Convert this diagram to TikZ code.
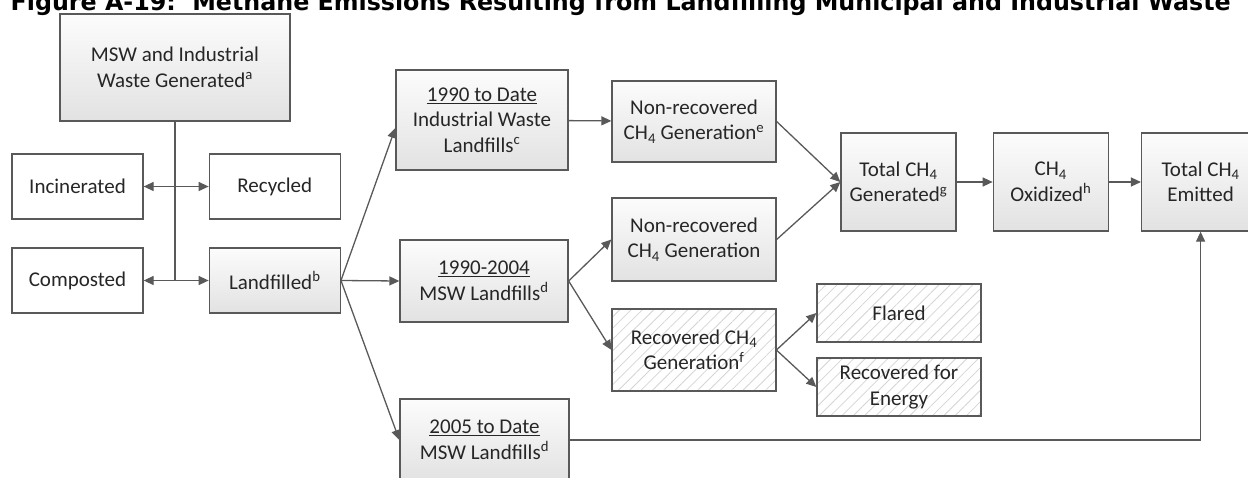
\documentclass[tikz,border=0pt]{standalone}
\usepackage{fontspec}
\setmainfont{Carlito}
\newfontfamily\titlefont{DejaVu Sans}
\usepackage{tikz}
\usetikzlibrary{positioning,arrows.meta,patterns.meta}
\definecolor{linegray}{RGB}{89,89,89}
\definecolor{topgray}{RGB}{252,252,252}
\definecolor{botgray}{RGB}{226,226,226}
\definecolor{hatchgray}{RGB}{212,212,212}
\tikzstyle{gr}=[%
      rectangle, draw=linegray, line width=1.3pt, top color=topgray, bottom color=botgray,
      text=black!85, inner sep=0pt, align=center, font=\fontsize{21}{25.5}\selectfont
]
\tikzstyle{wh}=[%
      rectangle, draw=linegray, line width=1.3pt, fill=white,
      text=black!85, inner sep=0pt, align=center, font=\fontsize{21}{25.5}\selectfont
]
\tikzstyle{ht}=[%
      rectangle, draw=linegray, line width=1.3pt,
      pattern={Lines[angle=45,distance=8pt,line width=0.8pt]}, pattern color=hatchgray,
      text=black!85, inner sep=0pt, align=center, font=\fontsize{21}{25.5}\selectfont
]
\begin{document}
\begin{tikzpicture}[x=1pt, y=-1pt,
    line width=1.3pt, draw=linegray,
    -{Triangle[length=10pt,width=9pt]}
  ]
    \useasboundingbox (0,0) rectangle (1248,477);
    \clip (0,0) rectangle (1248,477);

    \node[anchor=base west, inner sep=0pt] (title) at (10,10)
      {\resizebox{1220pt}{!}{\titlefont\bfseries Figure A-19:\ \ Methane Emissions Resulting from Landfilling Municipal and Industrial Waste}};

    % waste streams
    \node[gr, minimum width=230pt, minimum height=107pt] (msw) at (175,67.5) {MSW and Industrial\\Waste Generated\textsuperscript{a}};
    \node[wh, minimum width=131pt, minimum height=65pt] (inc) at (77.5,186.5) {Incinerated};
    \node[wh, minimum width=131pt, minimum height=65pt] (rec) [right=65pt of inc] {Recycled};
    \node[wh, minimum width=131pt, minimum height=65pt] (comp) at (77.5,280.5) {Composted};
    \node[gr, minimum width=131pt, minimum height=65pt] (land) [right=65pt of comp] {Landfilled\textsuperscript{b}};

    % landfill types
    \node[gr, minimum width=172pt, minimum height=100pt] (ind) at (482,120) {\underline{1990 to Date}\\Industrial Waste\\Landfills\textsuperscript{c}};
    \node[gr, minimum width=168pt, minimum height=82pt] (msw1) at (484,281) {\underline{1990-2004}\\MSW Landfills\textsuperscript{d}};
    \node[gr, minimum width=169pt, minimum height=82pt] (msw2) at (484.5,440) {\underline{2005 to Date}\\MSW Landfills\textsuperscript{d}};

    % generation
    \node[gr, minimum width=164pt, minimum height=81pt] (nr1) at (694,121.5) {Non-recovered\\CH\textsubscript{4} Generation\textsuperscript{e}};
    \node[gr, minimum width=164pt, minimum height=83pt] (nr2) at (694,239.5) {Non-recovered\\CH\textsubscript{4} Generation};
    \node[ht, minimum width=164pt, minimum height=82pt] (recov) at (694,350) {Recovered CH\textsubscript{4}\\Generation\textsuperscript{f}};
    \node[ht, minimum width=164pt, minimum height=58pt] (flared) at (899,313) {Flared};
    \node[ht, minimum width=164pt, minimum height=58pt] (energy) at (899,387) {Recovered for\\Energy};

    % totals
    \node[gr, minimum width=115pt, minimum height=98pt] (tgen) at (898.5,182) {Total CH\textsubscript{4}\\Generated\textsuperscript{g}};
    \node[gr, minimum width=115pt, minimum height=98pt] (oxid) [right=36pt of tgen] {CH\textsubscript{4}\\Oxidized\textsuperscript{h}};
    \node[gr, minimum width=118pt, minimum height=98pt] (emit) [right=32pt of oxid] {Total CH\textsubscript{4}\\Emitted};

    \draw[-] (msw) -- (msw.south |- land.west);
    \draw[{Triangle[length=10pt,width=9pt]}-{Triangle[length=10pt,width=9pt]}] (inc) -- (rec);
    \draw[{Triangle[length=10pt,width=9pt]}-{Triangle[length=10pt,width=9pt]}] (comp) -- (land);

    \draw (land.east) -- ([yshift=-8pt]ind.west);
    \draw (land.east) -- (msw1.west);
    \draw (land.east) -- (msw2.west);
    \draw (ind) -- (nr1);
    \draw (msw1.east) -- (nr2.west);
    \draw (msw1.east) -- (recov.west);
    \draw (recov.east) -- (flared.west);
    \draw (recov.east) -- (energy.west);
    \draw (nr1.east) -- (tgen.west);
    \draw (nr2.east) -- (tgen.west);
    \draw (tgen) -- (oxid);
    \draw (oxid) -- (emit);
    \draw (msw2) -| (emit);
  \end{tikzpicture}
\end{document}
